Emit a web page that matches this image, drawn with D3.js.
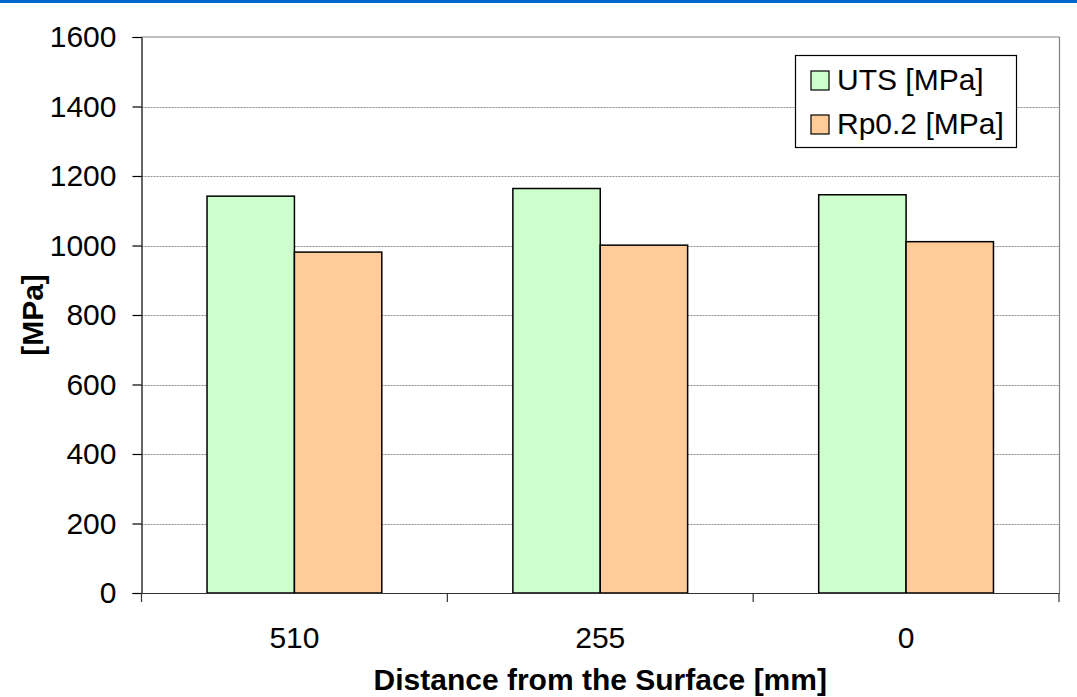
<!DOCTYPE html>
<html>
<head>
<meta charset="utf-8">
<script src="https://cdn.jsdelivr.net/npm/d3@7"></script>
<style>
  html, body { margin: 0; padding: 0; background: #fff; }
  svg { display: block; font-family: "Liberation Sans", Arial, sans-serif; }
</style>
</head>
<body>
<svg id="chart" width="1077" height="697"></svg>
<script>
const categories = ["510", "255", "0"];
const seriesNames = ["UTS [MPa]", "Rp0.2 [MPa]"];
const utsValues = [1142, 1164, 1146];
const rpValues = [981, 1001, 1011];
const yTicks = [0, 200, 400, 600, 800, 1000, 1200, 1400, 1600];
const seriesColors = ["#CCFFCC", "#FFCC99"];
const xTitle = "Distance from the Surface [mm]";
const yTitle = "[MPa]";

(function () {
const W = 1077, H = 697;
const pLeft = 141.5, pRight = 1059, pTop = 37, pBottom = 593;

const svg = d3.select("#chart");

// top blue bar
svg.append("rect").attr("x", 0).attr("y", 0).attr("width", W).attr("height", 3).attr("fill", "#0066CC");

const x0 = d3.scaleBand().domain(categories).range([pLeft, pRight]).padding(0);
const x1 = d3.scaleBand().domain(seriesNames).range([0, x0.bandwidth()]).paddingInner(0).paddingOuter(0.75);
const y = d3.scaleLinear().domain([0, 1600]).range([pBottom, pTop]);

// gridlines
svg.append("g").selectAll("line").data(yTicks.filter(d => d > 0 && d < 1600)).join("line")
  .attr("x1", pLeft).attr("x2", pRight)
  .attr("y1", d => Math.round(y(d)) + 0.5).attr("y2", d => Math.round(y(d)) + 0.5)
  .attr("stroke", "#8c8c8c").attr("stroke-width", 1).attr("stroke-dasharray", "2,1");

// right border
svg.append("line").attr("x1", pRight + 0.5).attr("x2", pRight + 0.5).attr("y1", y(1600)).attr("y2", pBottom)
  .attr("stroke", "#808080").attr("stroke-width", 1.2);

// bars
const data = categories.map((c, i) => ({ cat: c, vals: [utsValues[i], rpValues[i]] }));
const groups = svg.append("g").selectAll("g").data(data).join("g")
  .attr("transform", d => `translate(${x0(d.cat)},0)`);
groups.selectAll("rect").data(d => d.vals.map((v, j) => ({ key: seriesNames[j], v, j }))).join("rect")
  .attr("x", d => x1(d.key))
  .attr("width", x1.bandwidth())
  .attr("y", d => y(d.v))
  .attr("height", d => pBottom - y(d.v))
  .attr("fill", d => seriesColors[d.j])
  .attr("stroke", "#000").attr("stroke-width", 1.5);

// y axis
const yAxis = d3.axisLeft(y).tickValues(yTicks).tickSize(9).tickPadding(16).tickFormat(d3.format("d"));
const gy = svg.append("g").attr("transform", `translate(${pLeft},0)`).call(yAxis);
gy.select(".domain").attr("stroke", "#000").attr("stroke-width", 1.2);
gy.selectAll(".tick line").attr("stroke", "#000").attr("stroke-width", 1.2);
gy.selectAll(".tick text").attr("font-size", 30).attr("fill", "#000").attr("font-family", "Liberation Sans, Arial, sans-serif");

// x axis
const xAxis = d3.axisBottom(x0).tickSize(0).tickPadding(0);
const gx = svg.append("g").attr("transform", `translate(0,${pBottom})`).call(xAxis);
gx.select(".domain").attr("stroke", "#333").attr("stroke-width", 1.2);
gx.selectAll(".tick text").attr("font-size", 30).attr("fill", "#000").attr("dy", null).attr("y", 55)
  .attr("font-family", "Liberation Sans, Arial, sans-serif");
// category separator ticks
const sepPositions = categories.map(c => x0(c)).concat([x0(categories[categories.length - 1]) + x0.bandwidth()]);
svg.append("g").selectAll("line").data(sepPositions).join("line")
  .attr("x1", d => d).attr("x2", d => d).attr("y1", pBottom).attr("y2", pBottom + 9)
  .attr("stroke", "#333").attr("stroke-width", 1.2);

// top border (gray)
svg.append("line").attr("x1", pLeft).attr("x2", pRight + 0.5).attr("y1", y(1600)).attr("y2", y(1600))
  .attr("stroke", "#808080").attr("stroke-width", 1.2);

// axis titles
svg.append("text").attr("x", (pLeft + pRight) / 2).attr("y", 690).attr("text-anchor", "middle")
  .attr("font-size", 30).attr("font-weight", "bold").text(xTitle);
svg.append("text").attr("transform", `translate(43,${(pTop + pBottom) / 2}) rotate(-90)`).attr("text-anchor", "middle")
  .attr("font-size", 30).attr("font-weight", "bold").text(yTitle);

// legend
const lg = svg.append("g");
lg.append("rect").attr("x", 795.5).attr("y", 55.5).attr("width", 221).attr("height", 92)
  .attr("fill", "#fff").attr("stroke", "#000").attr("stroke-width", 1.2);
const items = lg.selectAll("g").data(seriesNames).join("g")
  .attr("transform", (d, i) => `translate(0,${i * 44})`);
items.append("rect").attr("x", 811).attr("y", 71).attr("width", 18).attr("height", 19)
  .attr("fill", (d, i) => seriesColors[i]).attr("stroke", "#000").attr("stroke-width", 1.2);
items.append("text").attr("x", 837).attr("y", 90).attr("font-size", 30).attr("fill", "#000").text(d => d);
})();
</script>
</body>
</html>
